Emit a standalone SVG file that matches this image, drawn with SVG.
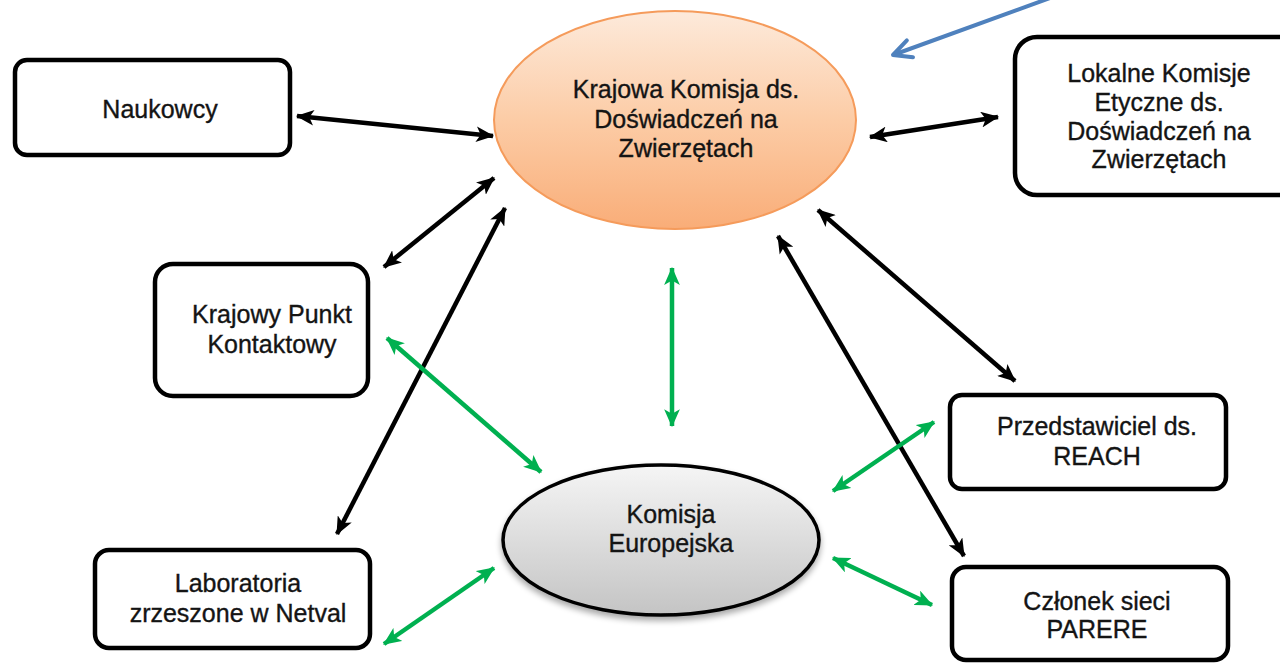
<svg xmlns="http://www.w3.org/2000/svg" width="1280" height="663" viewBox="0 0 1280 663">
<style>
.box{fill:#fff;stroke:#000;stroke-width:4.5}
.t{font-family:"Liberation Sans",Arial,sans-serif;font-size:25px;fill:#141414;stroke:#141414;stroke-width:0.35;text-anchor:middle}
.blk{stroke:#000;stroke-width:4.5;fill:none;marker-start:url(#hb);marker-end:url(#hb)}
.grn{stroke:#00b050;stroke-width:4.5;fill:none;marker-start:url(#hg);marker-end:url(#hg)}
</style>
<defs>
<linearGradient id="gOr" x1="0" y1="0" x2="0" y2="1">
<stop offset="0" stop-color="#fdeadb"/>
<stop offset="0.5" stop-color="#fccca6"/>
<stop offset="1" stop-color="#f9ad78"/>
</linearGradient>
<linearGradient id="gGr" x1="0" y1="0" x2="0" y2="1">
<stop offset="0" stop-color="#f5f5f5"/>
<stop offset="1" stop-color="#c4c4c4"/>
</linearGradient>
<filter id="sh" x="-20%" y="-20%" width="140%" height="150%">
<feGaussianBlur in="SourceAlpha" stdDeviation="3"/>
<feOffset dy="4"/>
<feComponentTransfer><feFuncA type="linear" slope="0.35"/></feComponentTransfer>
<feMerge><feMergeNode/><feMergeNode in="SourceGraphic"/></feMerge>
</filter>
<marker id="hb" viewBox="0 0 16 14" refX="15" refY="7" markerWidth="18" markerHeight="16" markerUnits="userSpaceOnUse" orient="auto-start-reverse">
<path d="M0,0 L16,7 L0,14 L4,7 z" fill="#000"/>
</marker>
<marker id="hg" viewBox="0 0 16 14" refX="15" refY="7" markerWidth="18" markerHeight="16" markerUnits="userSpaceOnUse" orient="auto-start-reverse">
<path d="M0,0 L16,7 L0,14 L4,7 z" fill="#00b050"/>
</marker>
<marker id="hblue" viewBox="0 0 24 24" refX="22" refY="12" markerWidth="24" markerHeight="24" markerUnits="userSpaceOnUse" orient="auto">
<path d="M4,3 L22,12 L4,21" fill="none" stroke="#4f81bd" stroke-width="4" stroke-linecap="round" stroke-linejoin="round"/>
</marker>
</defs>

<g id="connectors">
<line class="blk" x1="297" y1="116" x2="493" y2="136"/>
<line class="blk" x1="870" y1="137" x2="998" y2="117"/>
<line class="blk" x1="494" y1="178" x2="384" y2="267"/>
<line class="blk" x1="505" y1="208" x2="337" y2="534"/>
<line class="blk" x1="818" y1="210" x2="1015" y2="381"/>
<line class="blk" x1="778" y1="236" x2="964" y2="556"/>
<line class="grn" x1="672" y1="268" x2="672" y2="426"/>
<line class="grn" x1="387" y1="338" x2="541" y2="472"/>
<line class="grn" x1="494" y1="568" x2="384" y2="644"/>
<line class="grn" x1="934" y1="422" x2="833" y2="491"/>
<line class="grn" x1="833" y1="558" x2="932" y2="605"/>
<line x1="1050" y1="-2" x2="893" y2="55" stroke="#4f81bd" stroke-width="4" marker-end="url(#hblue)"/>
</g>

<g id="krajowa-komisja">
<ellipse cx="675" cy="120" rx="181" ry="109" fill="url(#gOr)" stroke="#f59b5b" stroke-width="2"/>
<text class="t" x="686" y="98">Krajowa Komisja ds.</text>
<text class="t" x="686" y="128">Doświadczeń na</text>
<text class="t" x="686" y="157">Zwierzętach</text>
</g>

<g id="komisja-europejska">
<ellipse cx="661" cy="540" rx="158" ry="75" fill="url(#gGr)" stroke="#000" stroke-width="3.5" filter="url(#sh)"/>
<text class="t" x="671" y="523">Komisja</text>
<text class="t" x="671" y="552">Europejska</text>
</g>

<g id="naukowcy">
<rect class="box" x="15" y="60" width="275" height="95" rx="12"/>
<text class="t" x="160" y="118">Naukowcy</text>
</g>

<g id="lokalne-komisje">
<rect class="box" x="1015" y="37" width="290" height="158" rx="22"/>
<text class="t" x="1159" y="82">Lokalne Komisje</text>
<text class="t" x="1159" y="111">Etyczne ds.</text>
<text class="t" x="1159" y="140">Doświadczeń na</text>
<text class="t" x="1159" y="168">Zwierzętach</text>
</g>

<g id="krajowy-punkt">
<rect class="box" x="155" y="264" width="213" height="132" rx="18"/>
<text class="t" x="272" y="323">Krajowy Punkt</text>
<text class="t" x="272" y="353">Kontaktowy</text>
</g>

<g id="laboratoria">
<rect class="box" x="95" y="550" width="275" height="98" rx="14"/>
<text class="t" x="238" y="592">Laboratoria</text>
<text class="t" x="238" y="622">zrzeszone w Netval</text>
</g>

<g id="przedstawiciel">
<rect class="box" x="950" y="395" width="276" height="94" rx="12"/>
<text class="t" x="1097" y="435">Przedstawiciel ds.</text>
<text class="t" x="1097" y="465">REACH</text>
</g>

<g id="czlonek">
<rect class="box" x="952" y="567" width="276" height="93" rx="14"/>
<text class="t" x="1097" y="610">Członek sieci</text>
<text class="t" x="1097" y="638">PARERE</text>
</g>
</svg>
